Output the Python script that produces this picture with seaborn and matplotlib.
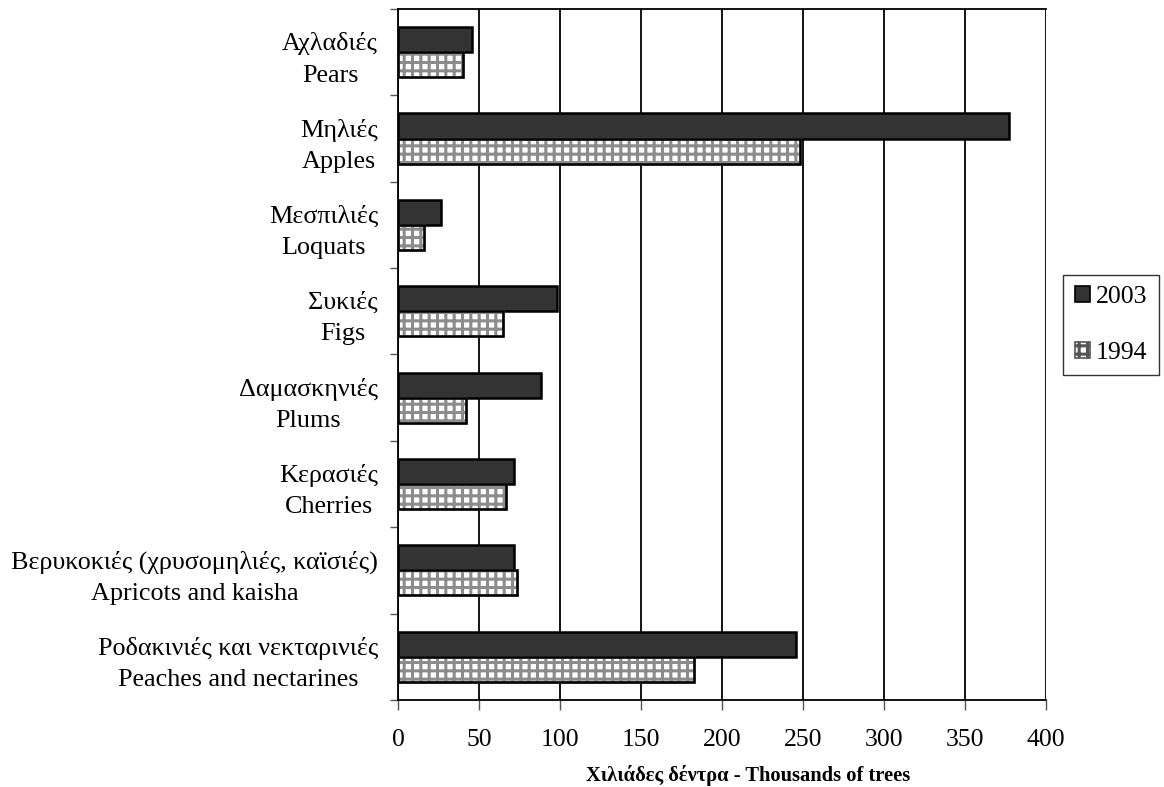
import numpy as np
import pandas as pd
import matplotlib
matplotlib.use('Agg')
import matplotlib.pyplot as plt
from matplotlib.patches import Patch, Rectangle
import seaborn as sns

# fruit tree counts, thousands of trees
fruit_gr = ['Αχλαδιές', 'Μηλιές', 'Μεσπιλιές', 'Συκιές', 'Δαμασκηνιές',
            'Κερασιές', 'Βερυκοκιές (χρυσομηλιές, καϊσιές)',
            'Ροδακινιές και νεκταρινιές']
fruit_en = ['Pears', 'Apples', 'Loquats', 'Figs', 'Plums', 'Cherries',
            'Apricots and kaisha', 'Peaches and nectarines']
trees_2003 = [46, 377, 26.5, 98, 88, 71.5, 71.5, 246]
trees_1994 = [40, 248, 16, 65, 42, 66.5, 73.5, 183]
years = ['2003', '1994']
x_ticks = [0, 50, 100, 150, 200, 250, 300, 350, 400]

sns.set_theme(style='white')
plt.rcParams['font.family'] = ['Liberation Serif', 'DejaVu Serif']
plt.rcParams['text.color'] = 'black'
plt.rcParams['xtick.color'] = 'black'
plt.rcParams['ytick.color'] = 'black'
plt.rcParams['axes.labelcolor'] = 'black'
plt.rcParams['hatch.linewidth'] = 2.2

labels = [f'{g}\n{e}' for g, e in zip(fruit_gr, fruit_en)]
df = pd.DataFrame({
    'fruit': labels * 2,
    'year': [years[0]] * len(labels) + [years[1]] * len(labels),
    'trees': trees_2003 + trees_1994,
})

fig = plt.figure(figsize=(11.64, 7.87), dpi=100)
ax = fig.add_axes([0.3419, 0.1106, 0.8986 - 0.3419, 0.9886 - 0.1106])

sns.barplot(data=df, y='fruit', x='trees', hue='year', hue_order=years,
            order=labels, orient='h', width=0.58, ax=ax,
            palette={'2003': '#333333', '1994': 'white'},
            edgecolor='black', linewidth=1.8, legend=False, errorbar=None)

# grid hatch for 1994, grey lines with a black outline on top
for p in ax.containers[1]:
    p.set_hatch('++')
    p.set_edgecolor('#8c8c8c')
    ax.add_patch(Rectangle(p.get_xy(), p.get_width(), p.get_height(),
                           fill=False, edgecolor='black', linewidth=1.8, zorder=p.get_zorder() + 0.1))

ax.set_xlim(0, 400)
ax.set_ylim(len(labels) - 0.5, -0.5)
ax.set_xticks(x_ticks)
ax.set_xticklabels([str(t) for t in x_ticks], fontsize=18.5)
ax.set_yticks(np.arange(-0.5, len(labels), 1), minor=True)
ax.tick_params(axis='y', which='major', length=0, pad=14.4, labelsize=18.8)
ax.tick_params(axis='y', which='minor', direction='out', length=6, width=1, color='#555555', left=True)
ax.tick_params(axis='x', which='major', direction='out', length=7, width=1, color='#555555', pad=14, bottom=True)
for lab in ax.get_yticklabels():
    lab.set_multialignment('center')
    lab.set_linespacing(1.55)

ax.xaxis.grid(True, color='black', linewidth=1.3)
ax.set_axisbelow(True)
for s in ['left', 'bottom', 'top']:
    ax.spines[s].set_color('black')
    ax.spines[s].set_linewidth(1.3)
ax.spines['right'].set_visible(False)

ax.set_ylabel('')
ax.set_xlabel('Χιλιάδες δέντρα - Thousands of trees', fontsize=14.8,
              fontweight='bold')
ax.xaxis.set_label_coords(0.54, -0.094)

handles = [Patch(facecolor='#333333', edgecolor='black', linewidth=1.2),
           Patch(facecolor='white', edgecolor='#555555', hatch='++', linewidth=1.2)]
leg = fig.legend(handles, years, loc='center',
                 bbox_to_anchor=(1111 / 1164, 1 - 325 / 787),
                 fontsize=18.5, frameon=True, fancybox=False, edgecolor='black',
                 handlelength=0.6, handleheight=0.6, handletextpad=0.2,
                 labelspacing=1.3, borderpad=0.45, borderaxespad=0)
leg.get_frame().set_linewidth(1.0)

plt.savefig('out.png', dpi=100)
